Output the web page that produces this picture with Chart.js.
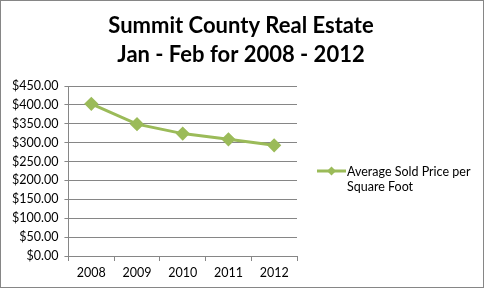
<!DOCTYPE html>
<html>
<head>
<meta charset="utf-8">
<script src="https://cdn.jsdelivr.net/npm/chart.js@4"></script>
<style>
  html, body { margin: 0; padding: 0; background: #fff; }
  #wrap { width: 484px; height: 288px; box-sizing: border-box; border: 1px solid #868686; }
  canvas { display: block; }
</style>
</head>
<body>
<div id="wrap"><canvas id="chart" width="482" height="286"></canvas></div>
<script>
const years = ["2008", "2009", "2010", "2011", "2012"];
const avgPrice = [403, 349, 324, 309, 293];
const titleLines = ["Summit County Real Estate", "Jan - Feb for 2008 - 2012"];
const seriesName = ["Average Sold Price per", "Square Foot"];

const green = "#9BBB59";
const font = "Lato, 'Open Sans', sans-serif";

// title and the two-line legend are drawn by hand, chart.js legend can't wrap nicely
const decor = {
  id: "decor",
  afterDraw(chart) {
    const c = chart.ctx;
    c.save();
    c.fillStyle = "#000";
    c.textAlign = "center";
    c.textBaseline = "alphabetic";
    c.font = "bold 22px " + font;
    c.fillText(titleLines[0], 240, 32);
    c.fillText(titleLines[1], 240, 61);

    // legend: line + diamond
    const ly = 170;
    c.strokeStyle = green;
    c.lineWidth = 3;
    c.beginPath();
    c.moveTo(316, ly);
    c.lineTo(345, ly);
    c.stroke();
    c.fillStyle = green;
    c.beginPath();
    c.moveTo(330.5, ly - 4.5);
    c.lineTo(335, ly);
    c.lineTo(330.5, ly + 4.5);
    c.lineTo(326, ly);
    c.closePath();
    c.fill();

    c.fillStyle = "#000";
    c.textAlign = "left";
    c.font = "12.5px " + font;
    c.fillText(seriesName[0], 346, 175);
    c.fillText(seriesName[1], 346, 190);
    c.restore();
  },
};

Chart.defaults.font.family = font;
Chart.defaults.color = "#000";

new Chart(document.getElementById("chart"), {
  type: "line",
  data: {
    labels: years,
    datasets: [
      {
        label: seriesName.join(" "),
        data: avgPrice,
        borderColor: green,
        backgroundColor: green,
        borderWidth: 3,
        pointStyle: "rectRot",
        pointRadius: 5,
        pointHoverRadius: 5,
        tension: 0,
      },
    ],
  },
  plugins: [decor],
  options: {
    responsive: false,
    animation: false,
    layout: { padding: { top: 85, left: 5, right: 186, bottom: 3 } },
    plugins: {
      tooltip: { enabled: false },
      title: { display: false },
      legend: { display: false },
    },
    scales: {
      x: {
        offset: true,
        grid: { drawOnChartArea: false, offset: true, tickLength: 5, color: "#868686" },
        border: { color: "#868686" },
        ticks: { font: { size: 12.5 }, padding: 4, color: "#000" },
      },
      y: {
        min: 0,
        max: 450,
        ticks: {
          stepSize: 50,
          font: { size: 12.5 },
          color: "#000",
          padding: 6,
          callback: (v) => "$" + v.toFixed(2),
        },
        grid: { color: "#868686", tickLength: 4 },
        border: { color: "#868686" },
      },
    },
  },
});
</script>
</body>
</html>
